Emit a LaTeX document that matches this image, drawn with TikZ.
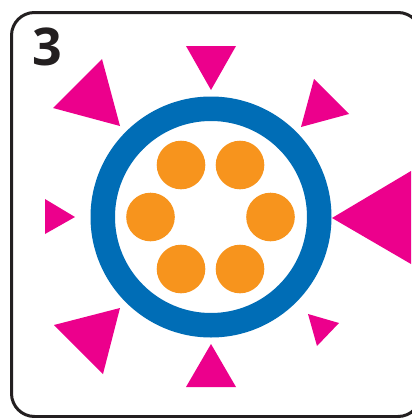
\documentclass[tikz,border=0pt]{standalone}
\usepackage{fontspec}
\setmainfont{Open Sans}
\definecolor{ringblue}{HTML}{006DB6}
\definecolor{mag}{HTML}{EC008C}
\definecolor{orng}{HTML}{F7941D}
\definecolor{frame}{HTML}{231F20}
\tikzset{
  tri/.style={fill=mag, draw=none},
  dot/.style={fill=orng, draw=none},
}
\begin{document}
\begin{tikzpicture}[x=1pt,y=-1pt]
\useasboundingbox (0,0) rectangle (412,418);
\clip (0,0) rectangle (412,418);
\fill[white] (0,0) rectangle (412,418);
% frame
\draw[frame, line width=3pt, rounded corners=23pt] (11.5,12.5) rectangle (421,416.5);
% label
\node[font=\fontsize{52}{52}\selectfont\bfseries, text=frame, inner sep=0pt] (lbl) at (47,46.5) {3};
% ring
\fill[ringblue, even odd rule] (211,217) circle (120.5) (211,217) circle (96);
% dots
\foreach \x/\y in {181/165, 240/165, 150.5/217, 270.5/217, 181/269, 240/269}
  \fill[dot] (\x,\y) circle (24.3);
% triangles
\fill[tri] (102,59) -- (53,108) -- (120,126) -- cycle;
\fill[tri] (186,46) -- (236,46) -- (211,90) -- cycle;
\fill[tri] (314,79) -- (349,114) -- (301,127) -- cycle;
\fill[tri] (332,218) -- (411,171) -- (411,264) -- cycle;
\fill[tri] (45,199) -- (45,234) -- (75,217) -- cycle;
\fill[tri] (120,308) -- (54,325) -- (103,374) -- cycle;
\fill[tri] (211,344) -- (186,387) -- (236,387) -- cycle;
\fill[tri] (308,314) -- (339,323) -- (317,346) -- cycle;
\end{tikzpicture}
\end{document}
